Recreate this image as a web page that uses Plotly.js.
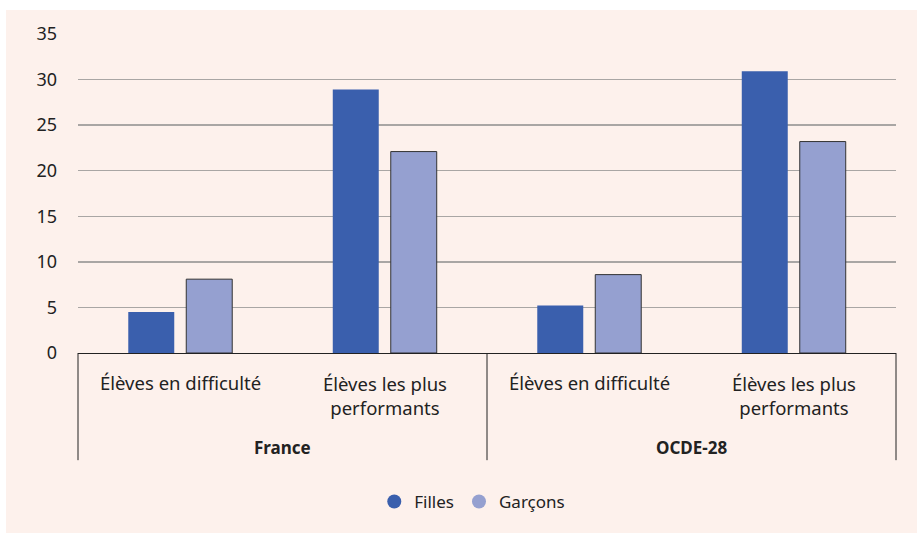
<!DOCTYPE html>
<html>
<head>
<meta charset="utf-8">
<script src="https://cdn.plot.ly/plotly-3.0.1.min.js"></script>
<style>
html,body{margin:0;padding:0;background:#ffffff;}
#chart{position:absolute;left:6px;top:10px;width:911px;height:523px;}
</style>
</head>
<body>
<div id="chart"></div>
<script>
const groups = ["France", "France", "OCDE-28", "OCDE-28"];
const categories = ["Élèves en difficulté", "Élèves les plus<br>performants", "Élèves en difficulté", "Élèves les plus<br>performants"];
const groupLabels = ["France", "OCDE-28"];
const filles = [4.5, 28.9, 5.2, 30.9];
const garcons = [8.1, 22.1, 8.6, 23.2];
const seriesNames = ["Filles", "Garçons"];
const yTicks = [0, 5, 10, 15, 20, 25, 30, 35];

const colF = "#3a5fad";
const colG = "#95a0d0";
const font = "Noto Sans, sans-serif";
const txt = "#222222";

const traces = [
  {type: "bar", x: [groups, categories], y: filles, name: seriesNames[0], showlegend: false,
   marker: {color: colF, line: {width: 0}}, hoverinfo: "y"},
  {type: "bar", x: [groups, categories], y: garcons, name: seriesNames[1], showlegend: false,
   marker: {color: colG, line: {color: "#333333", width: 1}}, hoverinfo: "y"},
  {type: "scatter", mode: "markers", x: [[groups[0]], [categories[0]]], y: [null], name: seriesNames[0],
   marker: {color: colF, size: 14, symbol: "circle"}},
  {type: "scatter", mode: "markers", x: [[groups[0]], [categories[0]]], y: [null], name: seriesNames[1],
   marker: {color: colG, size: 14, symbol: "circle"}}
];

// label layout (paper fractions)
const nCat = categories.length;
const annotations = [];
categories.forEach((c, i) => {
  const twoLine = c.indexOf("<br>") >= 0;
  annotations.push({xref: "paper", yref: "paper", x: (i + 0.5) / nCat, y: twoLine ? -0.133 : -0.092,
    text: c, showarrow: false, xanchor: "center", yanchor: "middle", align: "center",
    font: {family: font, size: 18.5, color: txt}});
});
groupLabels.forEach((g, i) => {
  annotations.push({xref: "paper", yref: "paper", x: (i + 0.5) / groupLabels.length, y: -0.296,
    text: "<b>" + g + "</b>", showarrow: false, xanchor: "center", yanchor: "middle",
    font: {family: font, size: 17, color: txt}});
});
const shapes = [0, 0.5, 1].map(xv => ({type: "line", xref: "paper", yref: "paper",
  x0: xv, x1: xv, y0: 0, y1: -0.336, line: {color: txt, width: 1}}));

const layout = {
  width: 911, height: 523,
  paper_bgcolor: "#fdf1ec", plot_bgcolor: "#fdf1ec",
  margin: {l: 72, r: 21, t: 24, b: 180},
  font: {family: font, size: 18, color: txt},
  barmode: "group", bargap: 0.433, bargroupgap: 0.207,
  xaxis: {
    type: "multicategory", showline: true, linecolor: txt, linewidth: 1,
    ticks: "", showgrid: false, showdividers: false, showticklabels: false
  },
  yaxis: {
    range: [0, 35], tickvals: yTicks, ticktext: yTicks.map(String),
    showgrid: true, gridcolor: "#a9a6a4", gridwidth: 1.5, zeroline: false,
    showline: false, ticks: "", ticklen: 0, ticklabelstandoff: 20,
    tickfont: {family: font, size: 18, color: txt}
  },
  annotations: annotations,
  shapes: shapes,
  legend: {orientation: "h", x: 0.482, xanchor: "center", y: -0.467, yanchor: "middle",
    font: {family: font, size: 17, color: txt}, bgcolor: "rgba(0,0,0,0)", itemwidth: 30,
    tracegroupgap: 0},
  showlegend: true
};

Plotly.newPlot("chart", traces, layout, {displayModeBar: false, staticPlot: true});
</script>
</body>
</html>
